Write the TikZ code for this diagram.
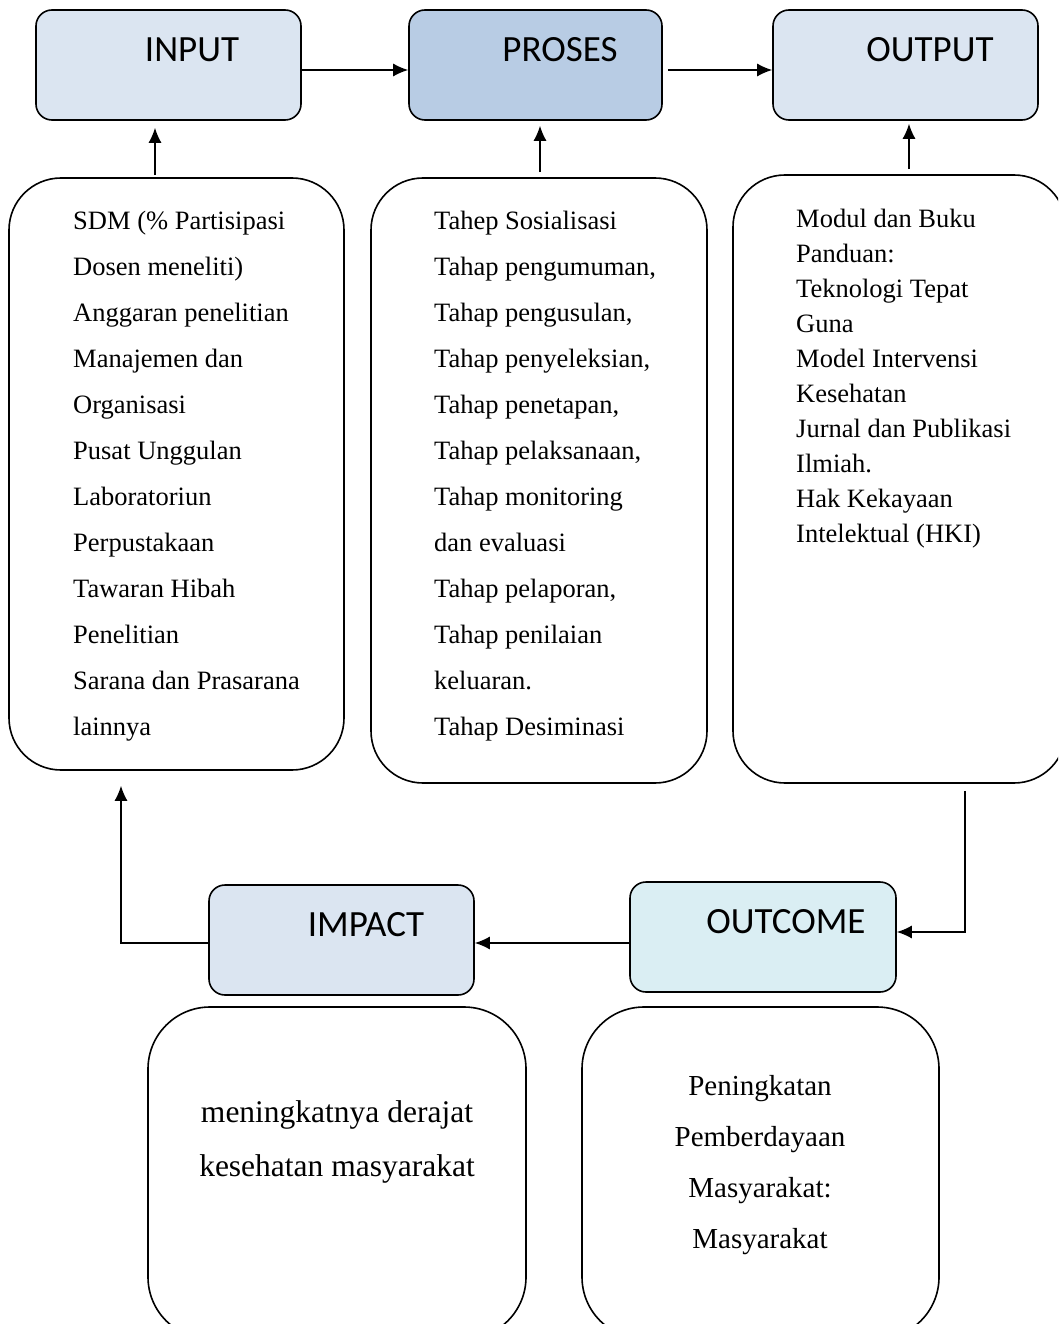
\documentclass[tikz,border=0pt]{standalone}
\usepackage{fontspec}
\usepackage{xcolor}
\usepackage{tikz}
\setmainfont{Liberation Serif}
\newfontfamily\calib{Carlito}
\usetikzlibrary{shapes.geometric, arrows.meta}
\definecolor{paleblue}{HTML}{DBE5F1}
\definecolor{midblue}{HTML}{B8CCE4}
\definecolor{paleaqua}{HTML}{DAEEF3}

\begin{document}
\begin{tikzpicture}[x=1pt, y=-1pt]
    % Define the style for the nodes
    \tikzstyle{head} = [rectangle, draw, line width=1.6pt, fill=paleblue, minimum width=265pt, minimum height=110pt, rounded corners=16pt]
    \tikzstyle{headtext} = [font=\calib\fontsize{37}{40}\selectfont, inner sep=0pt]
    \tikzstyle{listbox} = [rectangle, draw, line width=1.6pt, rounded corners=52pt]
    \tikzstyle{listtext} = [font=\fontsize{26.5}{46}\selectfont, align=left, anchor=north west, inner sep=0pt]
    \tikzstyle{line} = [draw, -{Latex[length=15pt,width=13pt]}, line width=1.4pt]

    \useasboundingbox (0,0) rectangle (1058,1324);
    \clip (0,0) rectangle (1058,1324);

    % Place the nodes
    \node [head] (input) at (168.5,65) {};
    \node [head, fill=midblue, minimum width=253pt] (proses) at (535.5,65) {};
    \node [head] (output) at (905.5,65) {};
    \node [headtext] (inputlbl) at (192,50) {INPUT};
    \node [headtext] (proseslbl) at (560,50) {PROSES};
    \node [headtext] (outputlbl) at (930,50) {OUTPUT};

    \node [listbox, minimum width=335pt, minimum height=592pt] (inbox) at (176.5,474) {};
    \node [listbox, minimum width=336pt, minimum height=605pt] (prosbox) at (539,480.5) {};
    \node [listbox, minimum width=333pt, minimum height=608pt] (outbox) at (899.5,479) {};

    \node [listtext] (intext) at (73,211) {SDM (\% Partisipasi\\Dosen meneliti)\\Anggaran penelitian\\Manajemen dan\\Organisasi\\Pusat Unggulan\\Laboratoriun\\Perpustakaan\\Tawaran Hibah\\Penelitian\\Sarana dan Prasarana\\lainnya};
    \node [listtext] (prostext) at (434,211) {Tahep Sosialisasi\\Tahap pengumuman,\\Tahap pengusulan,\\Tahap penyeleksian,\\Tahap penetapan,\\Tahap pelaksanaan,\\Tahap monitoring\\dan evaluasi\\Tahap pelaporan,\\Tahap penilaian\\keluaran.\\Tahap Desiminasi};
    \node [listtext, font=\fontsize{26.5}{35}\selectfont] (outtext) at (796,209) {Modul dan Buku\\Panduan:\\Teknologi Tepat\\Guna\\Model Intervensi\\Kesehatan\\Jurnal dan Publikasi\\Ilmiah.\\Hak Kekayaan\\Intelektual (HKI)};

    \node [head] (impact) at (341.5,940) {};
    \node [head, fill=paleaqua, minimum width=266pt] (outcome) at (763,937) {};
    \node [headtext] (impactlbl) at (366,925) {IMPACT};
    \node [headtext] (outcomelbl) at (786,922) {OUTCOME};

    \node [listbox, rounded corners=62pt, minimum width=378pt, minimum height=332pt] (impbox) at (337,1173) {};
    \node [listbox, rounded corners=62pt, minimum width=357pt, minimum height=332pt] (outcbox) at (760.5,1173) {};
    \node [font=\fontsize{31.5}{54}\selectfont, align=center, inner sep=0pt] (imptext) at (337,1142) {meningkatnya derajat\\kesehatan masyarakat};
    \node [font=\fontsize{29}{51}\selectfont, align=center, inner sep=0pt] (outctext) at (760,1165) {Peningkatan\\Pemberdayaan\\Masyarakat:\\Masyarakat};

    % Connect the nodes with paths
    \path [line] ([yshift=-5pt]input.east) -- ([yshift=-5pt]proses.west);
    \path [line] ([yshift=-5pt,xshift=5pt]proses.east) -- ([yshift=-5pt]output.west);
    \path [line, shorten >=7pt] ([xshift=-21.5pt,yshift=2pt]inbox.north) -- ([xshift=-13.5pt]input.south);
    \path [line, shorten >=5pt] ([xshift=1pt,yshift=5pt]prosbox.north) -- ([xshift=4.5pt]proses.south);
    \path [line, shorten >=3pt] ([xshift=9.5pt,yshift=5pt]outbox.north) -- ([xshift=3.5pt]output.south);
    \path [line] ([xshift=65.5pt,yshift=-7pt]outbox.south) |- ([yshift=5pt]outcome.east);
    \path [line] ([yshift=-3pt]impact.east -| outcome.west) -- ([yshift=-3pt]impact.east);
    \path [line, shorten >=15pt] ([yshift=-3pt]impact.west) -| ([xshift=-55.5pt]inbox.south);
\end{tikzpicture}
\end{document}
